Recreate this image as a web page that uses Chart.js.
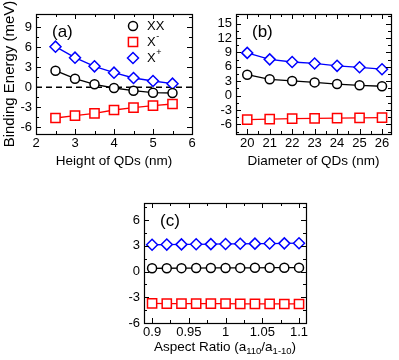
<!DOCTYPE html>
<html>
<head>
<meta charset="utf-8">
<script src="https://cdn.jsdelivr.net/npm/chart.js@4.4.0/dist/chart.umd.min.js"></script>
<style>
  body { margin: 0; background: #fff; width: 399px; height: 360px; position: relative; overflow: hidden; }
  canvas { position: absolute; }
</style>
</head>
<body>
<canvas id="chartA" width="200" height="180" style="left:0;top:0"></canvas>
<canvas id="chartB" width="199" height="180" style="left:200px;top:0"></canvas>
<canvas id="chartC" width="220" height="180" style="left:100px;top:180px"></canvas>
<script>
// Panel (a): binding energy vs QD height
const heightNm = [2.5, 3, 3.5, 4, 4.5, 5, 5.5];
const heightXX = [2.5, 1.3, 0.45, -0.1, -0.5, -0.8, -0.85];
const heightXminus = [-4.6, -4.25, -3.9, -3.4, -3.05, -2.75, -2.5];
const heightXplus = [6.1, 4.45, 3.15, 2.2, 1.4, 0.95, 0.55];
const heightTicksX = [2, 3, 4, 5, 6];
const heightTicksY = [-6, -3, 0, 3, 6, 9];

// Panel (b): binding energy vs QD diameter
const diameterNm = [20, 21, 22, 23, 24, 25, 26];
const diameterXX = [4.35, 3.4, 3.05, 2.75, 2.4, 2.15, 1.95];
const diameterXminus = [-5.0, -4.9, -4.8, -4.75, -4.7, -4.65, -4.6];
const diameterXplus = [8.9, 7.55, 7.0, 6.7, 6.2, 5.9, 5.5];
const diameterTicksX = [20, 21, 22, 23, 24, 25, 26];
const diameterTicksY = [-6, -3, 0, 3, 6, 9, 12, 15];

// Panel (c): binding energy vs aspect ratio
const aspectRatio = [0.9, 0.92, 0.94, 0.96, 0.98, 1.0, 1.02, 1.04, 1.06, 1.08, 1.1];
const aspectXX = [0.38, 0.39, 0.40, 0.41, 0.42, 0.42, 0.43, 0.44, 0.45, 0.45, 0.46];
const aspectXminus = [-3.72, -3.73, -3.73, -3.74, -3.75, -3.75, -3.76, -3.77, -3.77, -3.78, -3.78];
const aspectXplus = [3.13, 3.15, 3.17, 3.18, 3.20, 3.22, 3.24, 3.26, 3.27, 3.29, 3.31];
const aspectTicksX = [0.9, 0.95, 1, 1.05, 1.1];
const aspectTicksY = [-6, -3, 0, 3, 6];

const seriesNames = ['XX', 'X', 'X'];
const seriesSup = ['', '-', '+'];
const aspectTitle = [['Aspect Ratio (a', false], ['110', true], ['/a', false], ['1-10', true], [')', false]];

Chart.defaults.color = '#000';
Chart.defaults.font.family = "'Liberation Sans', Arial, sans-serif";

const RED = '#ff0000';
const BLUE = '#0000ff';
const BLACK = '#000000';

function toPoints(xs, ys) {
    return xs.map((x, i) => ({ x: x, y: ys[i] }));
}

function series(label, xs, ys, color, style, radius) {
    return {
        label: label,
        data: toPoints(xs, ys),
        borderColor: color,
        backgroundColor: color,
        borderWidth: 1.3,
        pointStyle: style,
        pointRadius: radius,
        pointBorderWidth: 1.5,
        pointBorderColor: color,
        pointBackgroundColor: '#fff',
        tension: 0
    };
}

// list of [value, isMajor] for inward tick marks
function tickValues(min, max, minor, major) {
    const out = [];
    const ratio = Math.round(major / minor);
    const start = Math.ceil(min / minor - 1e-6);
    const end = Math.floor(max / minor + 1e-6);
    for (let i = start; i <= end; i++) {
        out.push([i * minor, ((i % ratio) + ratio) % ratio === 0]);
    }
    return out;
}

// frame around the plot area with ticks pointing inwards on all four sides
const frameTicks = {
    id: 'frameTicks',
    afterDatasetsDraw(chart, args, opts) {
        const { ctx, chartArea: a } = chart;
        const xs = chart.scales.x;
        const ys = chart.scales.y;
        ctx.save();
        ctx.strokeStyle = '#000';
        ctx.lineWidth = 1;
        ctx.beginPath();
        tickValues(xs.min, xs.max, opts.xMinor, opts.xMajor).forEach(([v, major]) => {
            const px = Math.round(xs.getPixelForValue(v)) + 0.5;
            const len = major ? 5 : 3;
            ctx.moveTo(px, a.bottom); ctx.lineTo(px, a.bottom - len);
            ctx.moveTo(px, a.top); ctx.lineTo(px, a.top + len);
        });
        tickValues(ys.min, ys.max, opts.yMinor, opts.yMajor).forEach(([v, major]) => {
            const py = Math.round(ys.getPixelForValue(v)) + 0.5;
            const len = major ? 5 : 3;
            ctx.moveTo(a.left, py); ctx.lineTo(a.left + len, py);
            ctx.moveTo(a.right, py); ctx.lineTo(a.right - len, py);
        });
        ctx.stroke();
        ctx.lineWidth = 1.2;
        ctx.strokeRect(Math.round(a.left) + 0.5, Math.round(a.top) + 0.5,
            Math.round(a.right - a.left), Math.round(a.bottom - a.top));
        ctx.restore();
    }
};

// panel letter, optional legend and optional subscript x title
const annotations = {
    id: 'annotations',
    afterDraw(chart, args, opts) {
        const { ctx, chartArea: a } = chart;
        ctx.save();
        ctx.fillStyle = '#000';
        ctx.textBaseline = 'middle';
        ctx.textAlign = 'left';
        ctx.font = "17px 'Liberation Sans', Arial, sans-serif";
        ctx.fillText(opts.letter, a.left + 16, a.top + 18);

        if (opts.legend) {
            const lx = a.right - 59;
            chart.data.datasets.slice(0, 3).forEach((ds, i) => {
                const ly = a.top + 12 + i * 16;
                ctx.strokeStyle = ds.borderColor;
                ctx.fillStyle = '#fff';
                ctx.lineWidth = ds.pointBorderWidth;
                Chart.helpers.drawPoint(ctx, { pointStyle: ds.pointStyle, radius: ds.pointRadius, borderWidth: ds.pointBorderWidth, rotation: 0 }, lx, ly);
                ctx.fillStyle = '#000';
                ctx.font = "13px 'Liberation Sans', Arial, sans-serif";
                ctx.fillText(seriesNames[i], lx + 14, ly);
                if (seriesSup[i]) {
                    const w = ctx.measureText(seriesNames[i]).width;
                    ctx.font = "9px 'Liberation Sans', Arial, sans-serif";
                    ctx.fillText(seriesSup[i], lx + 14 + w + 0.5, ly - 5);
                }
            });
        }

        if (opts.subTitle) {
            const big = "13.5px 'Liberation Sans', Arial, sans-serif";
            const small = "9.5px 'Liberation Sans', Arial, sans-serif";
            let total = 0;
            opts.subTitle.forEach(([t, sub]) => { ctx.font = sub ? small : big; total += ctx.measureText(t).width; });
            let x = (a.left + a.right) / 2 - total / 2;
            const y = opts.subTitleY;
            ctx.fillStyle = '#000';
            opts.subTitle.forEach(([t, sub]) => {
                ctx.font = sub ? small : big;
                ctx.fillText(t, x, sub ? y + 4 : y);
                x += ctx.measureText(t).width;
            });
        }
        ctx.restore();
    }
};

function makeChart(id, cfg) {
    const fmt = (v) => String(+v.toFixed(3));
    return new Chart(document.getElementById(id), {
        type: 'line',
        data: { datasets: cfg.datasets },
        plugins: [frameTicks, annotations],
        options: {
            responsive: false,
            animation: false,
            events: [],
            layout: { padding: cfg.padding },
            plugins: {
                legend: { display: false },
                tooltip: { enabled: false },
                frameTicks: cfg.ticks,
                annotations: cfg.annot
            },
            scales: {
                x: {
                    type: 'linear',
                    min: cfg.xMin,
                    max: cfg.xMax,
                    grid: { display: false, drawTicks: false },
                    border: { display: false },
                    afterBuildTicks: (s) => { s.ticks = cfg.xTicks.map(v => ({ value: v })); },
                    afterFit: (s) => { s.height = cfg.xHeight; s.paddingLeft = 0; s.paddingRight = 0; },
                    ticks: { font: { size: 13 }, padding: 2, maxRotation: 0, autoSkip: false, callback: fmt },
                    title: {
                        display: !!cfg.xTitle,
                        text: cfg.xTitle || '',
                        font: { size: 13.5 },
                        padding: { top: 0, bottom: 11 }
                    }
                },
                y: {
                    type: 'linear',
                    min: cfg.yMin,
                    max: cfg.yMax,
                    grid: { display: false, drawTicks: false },
                    border: { display: false },
                    afterBuildTicks: (s) => { s.ticks = cfg.yTicks.map(v => ({ value: v })); },
                    afterFit: (s) => { s.width = cfg.yWidth; s.paddingTop = 0; s.paddingBottom = 0; },
                    ticks: { font: { size: 13 }, padding: 4, autoSkip: false, callback: fmt },
                    title: {
                        display: !!cfg.yTitle,
                        text: cfg.yTitle || '',
                        font: { size: 15 },
                        padding: { top: 1, bottom: 0 }
                    }
                }
            }
        }
    });
}

makeChart('chartA', {
    datasets: [
        series('XX', heightNm, heightXX, BLACK, 'circle', 4.5),
        series('X-', heightNm, heightXminus, RED, 'rect', 6.5),
        series('X+', heightNm, heightXplus, BLUE, 'rectRot', 5.5),
        {
            label: 'zero',
            data: toPoints([2, 6], [0, 0]),
            borderColor: '#000',
            borderWidth: 1.5,
            borderDash: [6, 4],
            pointRadius: 0,
            order: 10
        }
    ],
    padding: { left: 0, top: 14, right: 3, bottom: 0 },
    xMin: 2, xMax: 6, yMin: -7, yMax: 11,
    xTicks: heightTicksX, yTicks: heightTicksY,
    xHeight: 46, yWidth: 36,
    xTitle: 'Height of QDs (nm)',
    yTitle: 'Binding Energy (meV)',
    ticks: { xMinor: 0.5, xMajor: 1, yMinor: 1.5, yMajor: 3 },
    annot: { letter: '(a)', legend: true }
});

makeChart('chartB', {
    datasets: [
        series('XX', diameterNm, diameterXX, BLACK, 'circle', 4.5),
        series('X-', diameterNm, diameterXminus, RED, 'rect', 6.5),
        series('X+', diameterNm, diameterXplus, BLUE, 'rectRot', 5.5)
    ],
    padding: { left: 0, top: 14, right: 3, bottom: 0 },
    xMin: 19.5, xMax: 26.4, yMin: -8, yMax: 17,
    xTicks: diameterTicksX, yTicks: diameterTicksY,
    xHeight: 46, yWidth: 36,
    xTitle: 'Diameter of QDs (nm)',
    ticks: { xMinor: 0.5, xMajor: 1, yMinor: 1.5, yMajor: 3 },
    annot: { letter: '(b)', legend: false }
});

makeChart('chartC', {
    datasets: [
        series('XX', aspectRatio, aspectXX, BLACK, 'circle', 4.5),
        series('X-', aspectRatio, aspectXminus, RED, 'rect', 6.5),
        series('X+', aspectRatio, aspectXplus, BLUE, 'rectRot', 5.5)
    ],
    padding: { left: 0, top: 23, right: 14, bottom: 0 },
    xMin: 0.889, xMax: 1.1095, yMin: -6, yMax: 8,
    xTicks: aspectTicksX, yTicks: aspectTicksY,
    xHeight: 37, yWidth: 44,
    ticks: { xMinor: 0.025, xMajor: 0.05, yMinor: 1.5, yMajor: 3 },
    annot: { letter: '(c)', legend: false, subTitle: aspectTitle, subTitleY: 167 }
});
</script>
</body>
</html>
